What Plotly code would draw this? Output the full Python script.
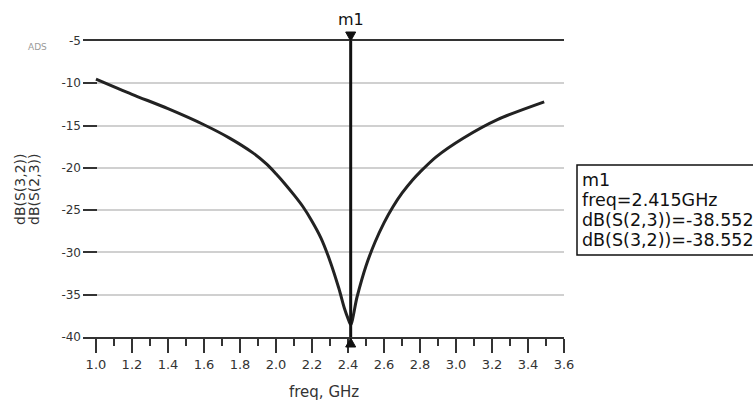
import plotly.graph_objects as go

# ---- data ----
freq_ghz = [1.0, 1.2, 1.4, 1.6, 1.74, 1.87, 1.95, 2.0, 2.05, 2.1, 2.15, 2.2, 2.25, 2.3, 2.35, 2.38, 2.40, 2.415,
            2.45, 2.50, 2.55, 2.60, 2.65, 2.70, 2.76, 2.80, 2.89, 3.04, 3.23, 3.49]
db_s23 = [-9.5, -11.3, -13.0, -14.9, -16.45, -18.2, -19.6, -20.7, -21.9, -23.2, -24.6, -26.3, -28.3, -31.0, -34.3,
          -36.6, -37.8, -38.55,
          -35.3, -31.6, -28.8, -26.5, -24.6, -23.0, -21.4, -20.5, -18.7, -16.5, -14.3, -12.2]
marker_name = "m1"
marker_freq = 2.415
marker_db = -38.552
x_ticks = [1.0, 1.2, 1.4, 1.6, 1.8, 2.0, 2.2, 2.4, 2.6, 2.8, 3.0, 3.2, 3.4, 3.6]
y_ticks = [-5, -10, -15, -20, -25, -30, -35, -40]
y_title_lines = ["dB(S(3,2))", "dB(S(2,3))"]
x_title = "freq, GHz"
readout_lines = [marker_name, f"freq={marker_freq:.3f}GHz",
                 f"dB(S(2,3))={marker_db:.3f}", f"dB(S(3,2))={marker_db:.3f}"]

W, H = 753, 405
L, R, T, B = 83, 189, 41, 68
plot_w = W - L - R
plot_h = H - T - B
y_lo, y_hi = -40, -5
x_lo, x_hi = 0.928, 3.6

FONT = "DejaVu Sans"
DARK = "#222222"

fig = go.Figure()
fig.add_trace(go.Scatter(x=freq_ghz, y=db_s23, mode="lines",
                         line=dict(color=DARK, width=3, shape="spline", smoothing=0.8),
                         hoverinfo="skip"))

# marker vertical line
fig.add_shape(type="line", xref="x", yref="y", x0=marker_freq, x1=marker_freq, y0=y_hi, y1=y_lo,
              line=dict(color="#111111", width=3))
# marker triangles (paper refs so they are not clipped by the plot area)
marker_paper_x = (marker_freq - x_lo) / (x_hi - x_lo)
fig.add_shape(type="path", xref="paper", yref="paper", xsizemode="pixel", ysizemode="pixel",
              xanchor=marker_paper_x, yanchor=1, path="M-5,9 L5,9 L0,0 Z",
              fillcolor="#111111", line=dict(color="#111111", width=1))
fig.add_shape(type="path", xref="paper", yref="paper", xsizemode="pixel", ysizemode="pixel",
              xanchor=marker_paper_x, yanchor=0, path="M-5,-10 L5,-10 L0,-1 Z",
              fillcolor="#111111", line=dict(color="#111111", width=1))
fig.add_annotation(x=marker_freq, xref="x", y=1, yref="paper", yshift=22, yanchor="middle",
                   text=marker_name, showarrow=False, font=dict(family=FONT, size=16, color="#111111"))

fig.update_xaxes(range=[x_lo, x_hi], tickvals=x_ticks, ticktext=[f"{v:.1f}" for v in x_ticks],
                 ticks="outside", ticklen=14, tickwidth=1.5, tickcolor="#333",
                 minor=dict(dtick=0.1, tick0=1.0, ticks="outside", ticklen=7, tickwidth=1.5, tickcolor="#333",
                            showgrid=False),
                 showline=True, linecolor="#333", linewidth=2, mirror=True,
                 showgrid=False, zeroline=False,
                 tickfont=dict(family=FONT, size=13, color="#333"))
fig.update_yaxes(range=[y_lo, y_hi], tickvals=y_ticks, ticktext=[str(v) for v in y_ticks],
                 ticks="inside", ticklen=14, tickwidth=2, tickcolor="#333",
                 showline=False, showgrid=True, gridcolor="#d0d0d0", gridwidth=1.5,
                 zeroline=False, ticklabelstandoff=1,
                 tickfont=dict(family=FONT, size=12, color="#333"))

fig.add_annotation(x=0.5, xref="paper", y=0, yref="paper", yshift=-55, yanchor="middle", xanchor="center",
                   text=x_title, showarrow=False, font=dict(family=FONT, size=15, color="#333"))

for i, line in enumerate(y_title_lines):
    fig.add_annotation(x=0, xref="paper", xshift=-(L - 20 - 14 * i), xanchor="center",
                       y=0.5, yref="paper", yanchor="middle", text=line,
                       textangle=-90, showarrow=False, font=dict(family=FONT, size=14, color="#333"))

fig.add_annotation(x=0, xref="paper", xshift=-(L - 37), xanchor="center", y=1, yref="paper", yshift=-6,
                   yanchor="middle", text="ADS",
                   showarrow=False, font=dict(family=FONT, size=9, color="#9a9a9a"))

# marker readout box
def px_x(p):
    return (p - L) / plot_w

def px_y(p):
    return (T + plot_h - p) / plot_h

fig.add_shape(type="rect", xref="paper", yref="paper", x0=px_x(577), x1=px_x(800), y0=px_y(255), y1=px_y(165),
              line=dict(color="#111111", width=1.5), fillcolor="white")
for i, line in enumerate(readout_lines):
    fig.add_annotation(x=px_x(580), xref="paper", xanchor="left", y=px_y(180 + 20 * i), yref="paper",
                       yanchor="middle", text=line, showarrow=False, align="left",
                       font=dict(family=FONT, size=17.5, color="#111111"))

fig.update_layout(width=W, height=H, margin=dict(l=L, r=R, t=T, b=B), showlegend=False,
                  plot_bgcolor="white", paper_bgcolor="white")

fig.write_html("out.html")
